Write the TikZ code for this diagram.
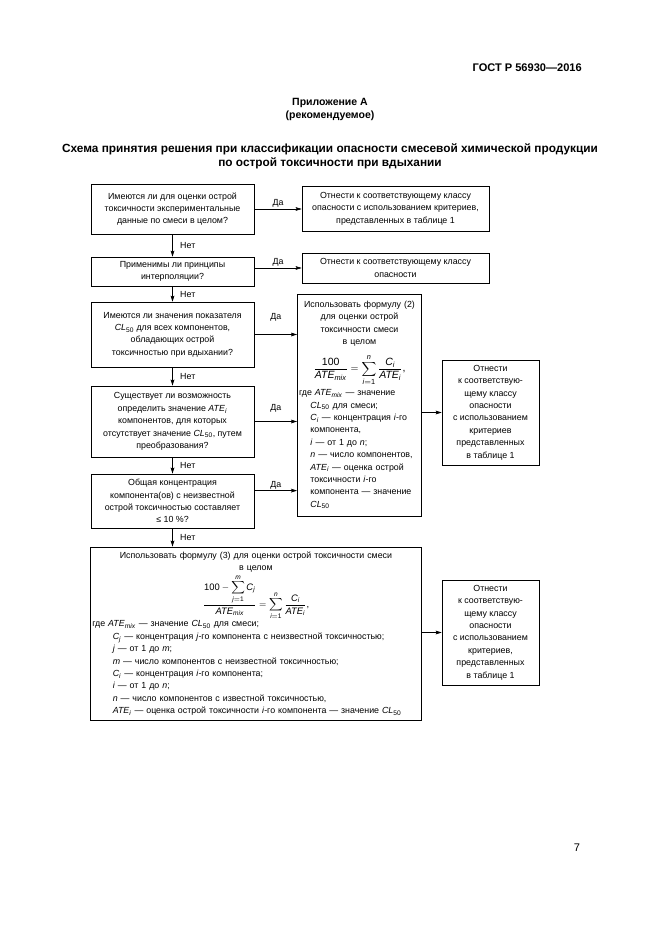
\documentclass[tikz,border=0pt]{standalone}
\usepackage{amsmath}
\usepackage{exscale}
\usepackage{fontspec}
\setmainfont{Liberation Sans}
\usepackage{tikz}
\usetikzlibrary{arrows.meta, positioning, calc}

\newcommand{\vi}[1]{\text{\itshape #1}}
\newcommand{\CLf}{\textit{CL}\textsubscript{50}}
\newcommand{\ATEmix}{\textit{ATE}\textsubscript{\textit{mix}}}
\newcommand{\ATEi}{\textit{ATE}\textsubscript{\textit{i}}}
\newcommand{\boxfont}{\fontsize{8}{11.2}\selectfont}
\newcommand{\frmfont}{\fontsize{9.5}{11.5}\selectfont}

\tikzset{
  blk/.style={draw, line width=0.6pt, align=center, inner sep=1.5pt, font=\boxfont},
  arr/.style={-{Stealth[length=5.5pt, width=3.4pt, inset=1pt]}, line width=0.6pt},
  lbl/.style={font=\boxfont, inner sep=1pt}
}

\begin{document}
\begin{tikzpicture}[x=0.3177mm, y=-0.3177mm]
    \useasboundingbox (0,0) rectangle (661,935);

    % шапка страницы
    \node[anchor=east, inner sep=0pt, font=\fontsize{10}{12}\selectfont\bfseries] (gost) at (582,68) {ГОСТ Р 56930---2016};
    \node[align=center, font=\fontsize{9.5}{12}\selectfont\bfseries] (pril) at (330,109.5) {Приложение А\\(рекомендуемое)};
    \node[align=center, font=\fontsize{10.7}{12.7}\selectfont\bfseries] (title) at (330,156) {Схема принятия решения при классификации опасности смесевой химической продукции\\по острой токсичности при вдыхании};

    % вопросы (левая колонка)
    \node[blk, minimum width=51.8mm, minimum height=15.9mm] (q1) at (172.5,209) {Имеются ли для оценки острой\\токсичности экспериментальные\\данные по смеси в целом?};
    \node[blk, minimum width=51.8mm, minimum height=9.2mm] (q2) at (172.5,271.5) {Применимы ли принципы\\интерполяции?};
    \node[blk, minimum width=51.8mm, minimum height=20.6mm] (q3) at (172.5,334.5) {Имеются ли значения показателя\\\CLf{} для всех компонентов,\\обладающих острой\\токсичностью при вдыхании?};
    \node[blk, minimum width=51.8mm, minimum height=22.6mm] (q4) at (172.5,421.5) {Существует ли возможность\\определить значение \ATEi\\компонентов, для которых\\отсутствует значение \CLf, путем\\преобразования?};
    \node[blk, minimum width=51.8mm, minimum height=17.2mm] (q5) at (172.5,501) {Общая концентрация\\компонента(ов) с неизвестной\\острой токсичностью составляет\\≤ 10 \%?};

    % решения (правая колонка)
    \node[blk, minimum width=59.4mm, minimum height=14.3mm] (r1) at (395.5,208.5) {Отнести к соответствующему классу\\опасности с использованием критериев,\\представленных в таблице 1};
    \node[blk, minimum width=59.4mm, minimum height=9.5mm] (r2) at (395.5,268) {Отнести к соответствующему классу\\опасности};

    % формула (2)
    \node[blk, minimum width=39.1mm, minimum height=70.5mm, text width=38.4mm, align=left] (f2) at (359.5,405) {%
        {\centering Использовать формулу (2)\\для оценки острой\\токсичности смеси\\в целом\par}
        \vspace{6pt}
        {\centering\frmfont $\displaystyle\frac{\text{100}}{\vi{ATE}_{\vi{mix}}}=\sum_{\vi{i}=\text{1}}^{\vi{n}}\frac{\vi{C}_{\vi{i}}}{\vi{ATE}_{\vi{i}}}\text{,}$\par}
        \vspace{3pt}
        где \ATEmix{} --- значение\par
        {\leftskip=3.6mm \CLf{} для смеси;\\
        \textit{C}\textsubscript{\textit{i}} --- концентрация \textit{i}-го\\
        компонента,\\
        \textit{i} --- от 1 до \textit{n};\\
        \textit{n} --- число компонентов,\\
        \ATEi{} --- оценка острой\\
        токсичности \textit{i}-го\\
        компонента --- значение\\
        \CLf\par}};

    \node[blk, minimum width=30.8mm, minimum height=33.4mm] (r3) at (490.5,412.5) {Отнести\\к соответствую-\\щему классу\\опасности\\с использованием\\критериев\\представленных\\в таблице 1};

    % формула (3)
    \node[blk, minimum width=104.8mm, minimum height=55mm, text width=104mm, align=left] (f3) at (256,633.5) {%
        {\centering Использовать формулу (3) для оценки острой токсичности смеси\\в целом\par}
        \vspace{1pt}
        {\centering\fontsize{8.5}{10}\selectfont $\displaystyle\frac{\displaystyle\text{100}-\sum_{\vi{j}=\text{1}}^{\vi{m}}\vi{C}_{\vi{j}}}{\vi{ATE}_{\vi{mix}}}=\sum_{\vi{i}=\text{1}}^{\vi{n}}\frac{\vi{C}_{\vi{i}}}{\vi{ATE}_{\vi{i}}}\text{,}$\par}
        \vspace{0pt}
        где \ATEmix{} --- значение \CLf{} для смеси;\par
        {\leftskip=6.5mm \textit{C}\textsubscript{\textit{j}} --- концентрация \textit{j}-го компонента с неизвестной токсичностью;\\
        \textit{j} --- от 1 до \textit{m};\\
        \textit{m} --- число компонентов с неизвестной токсичностью;\\
        \textit{C}\textsubscript{\textit{i}} --- концентрация \textit{i}-го компонента;\\
        \textit{i} --- от 1 до \textit{n};\\
        \textit{n} --- число компонентов с известной токсичностью,\\
        \ATEi{} --- оценка острой токсичности \textit{i}-го компонента --- значение \CLf\par}};

    \node[blk, minimum width=30.8mm, minimum height=33.4mm] (r4) at (490.5,632.5) {Отнести\\к соответствую-\\щему классу\\опасности\\с использованием\\критериев,\\представленных\\в таблице 1};

    % стрелки "Да"
    \draw[arr] (q1.east) -- (q1.east -| r1.west) node[lbl, midway, above] {Да};
    \draw[arr] (r2.west -| q2.east) -- (r2.west) node[lbl, midway, above] {Да};
    \draw[arr] (q3.east) -- (q3.east -| f2.west) node[lbl, midway, above=3.6mm] {Да};
    \draw[arr] (q4.east) -- (q4.east -| f2.west) node[lbl, midway, above=2.6mm] {Да};
    \draw[arr] ([yshift=3.3mm]q5.east) -- ([yshift=3.3mm]q5.east -| f2.west) node[lbl, midway, above] {Да};
    \draw[arr] (r3.west -| f2.east) -- (r3.west);
    \draw[arr] (r4.west -| f3.east) -- (r4.west);

    % стрелки "Нет"
    \draw[arr] (q1.south) -- (q2.north) node[lbl, midway, right=2mm] {Нет};
    \draw[arr] (q2.south) -- (q3.north) node[lbl, midway, right=2mm] {Нет};
    \draw[arr] (q3.south) -- (q4.north) node[lbl, midway, right=2mm] {Нет};
    \draw[arr] (q4.south) -- (q5.north) node[lbl, midway, right=2mm] {Нет};
    \draw[arr] (q5.south) -- (q5.south |- f3.north) node[lbl, midway, right=2mm] {Нет};

    \node[font=\fontsize{10}{12}\selectfont] (page) at (577,848) {7};
\end{tikzpicture}
\end{document}
